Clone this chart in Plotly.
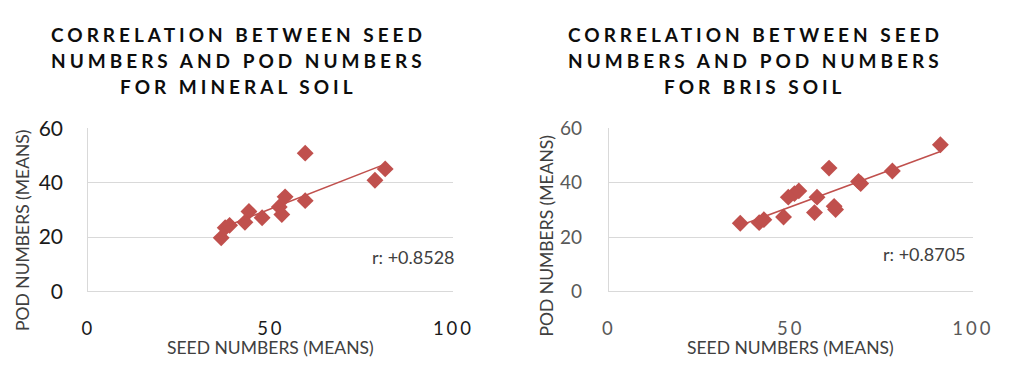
import numpy as np
import plotly.graph_objects as go

# ---------------- data ----------------
seed_mineral = [36.4, 37.5, 38.7, 42.9, 44.0, 47.6, 52.3, 53.0, 53.9, 59.4, 59.4, 78.5, 81.3]
pod_mineral = [19.7, 23.4, 24.3, 25.4, 29.4, 27.1, 31.1, 28.3, 34.8, 33.4, 50.9, 40.9, 45.1]

seed_bris = [36.1, 41.3, 42.6, 48.0, 49.3, 51.0, 52.2, 56.5, 57.2, 60.5, 61.9, 62.3, 68.6, 69.2, 77.9, 91.1]
pod_bris = [25.1, 25.3, 26.4, 27.4, 34.7, 36.0, 37.0, 29.0, 34.7, 45.4, 31.3, 30.1, 40.5, 39.7, 44.3, 54.0]

title_mineral = ["CORRELATION BETWEEN SEED", "NUMBERS AND POD NUMBERS", "FOR MINERAL SOIL"]
title_bris = ["CORRELATION BETWEEN SEED", "NUMBERS AND POD NUMBERS", "FOR BRIS SOIL"]
r_mineral = "r: +0.8528"
r_bris = "r: +0.8705"
x_title = "SEED NUMBERS (MEANS)"
y_title = "POD NUMBERS (MEANS)"
x_ticks = [0, 50, 100]
y_ticks = [0, 20, 40, 60]

# ---------------- figure ----------------
W, H = 1011, 372
RED = "#C0504D"
GRID = "#d9d9d9"


def px_x(p):
    return p / W


def px_y(p):
    return 1 - p / H


fig = go.Figure()


def add_series(xs, ys, xa, ya):
    fig.add_trace(go.Scatter(x=xs, y=ys, mode="markers", xaxis=xa, yaxis=ya,
                             marker=dict(symbol="diamond", size=13, color=RED,
                                         line=dict(width=0)),
                             showlegend=False, hoverinfo="skip"))
    xa_ = np.array(xs, dtype=float)
    ya_ = np.array(ys, dtype=float)
    k, b = np.polyfit(xa_, ya_, 1)
    xl = [xa_.min(), xa_.max()]
    yl = [k * v + b for v in xl]
    fig.add_trace(go.Scatter(x=xl, y=yl, mode="lines", xaxis=xa, yaxis=ya,
                             line=dict(color=RED, width=1.5),
                             showlegend=False, hoverinfo="skip"))


add_series(seed_mineral, pod_mineral, "x", "y")
add_series(seed_bris, pod_bris, "x2", "y2")

ydom = [px_y(297.3), px_y(122.7)]


def xaxis_cfg(dom, color):
    return dict(domain=dom, range=[0, 100], tickvals=x_ticks, showgrid=False,
                zeroline=False, showline=True, linecolor=GRID, linewidth=1,
                ticks="", ticklabelstandoff=20,
                tickfont=dict(family="Lato", size=18.5, color=color), fixedrange=True)


def yaxis_cfg(anchor, color, size, standoff):
    return dict(domain=ydom, range=[0, 60], tickvals=y_ticks, showgrid=True,
                gridcolor=GRID, gridwidth=1, zeroline=False, showline=True,
                linecolor=GRID, linewidth=1, ticks="", anchor=anchor,
                ticklabelstandoff=standoff,
                tickfont=dict(family="Lato", size=size, color=color), fixedrange=True)


fig.update_layout(
    width=W, height=H, autosize=False,
    margin=dict(l=0, r=0, t=0, b=0),
    paper_bgcolor="white", plot_bgcolor="white",
    xaxis=dict(xaxis_cfg([px_x(85), px_x(458)], "#1a1a1a"), anchor="y"),
    yaxis=yaxis_cfg("x", "#1a1a1a", 21, 20),
    xaxis2=dict(xaxis_cfg([px_x(616.7), px_x(988.3)], "#595959"), anchor="y2"),
    yaxis2=yaxis_cfg("x2", "#595959", 19, 22),
)

ann = []
# titles (first 6 annotations)
for cx, lines in ((238, title_mineral), (766, title_bris)):
    for line, cy in zip(lines, (22, 50, 78)):
        ann.append(dict(text=line, x=px_x(cx), y=px_y(cy), xref="paper", yref="paper",
                        xanchor="center", yanchor="middle", showarrow=False,
                        font=dict(family="Lato", size=19, color="#0d0d0d", weight="bold")))
# axis titles
for cx in (271.5, 802.5):
    ann.append(dict(text=x_title, x=px_x(cx), y=px_y(358), xref="paper", yref="paper",
                    xanchor="center", yanchor="middle", showarrow=False,
                    font=dict(family="Lato", size=17.5, color="#404040")))
for cx, cy in ((18, 232), (552, 238)):
    ann.append(dict(text=y_title, x=px_x(cx), y=px_y(cy), xref="paper", yref="paper",
                    xanchor="center", yanchor="middle", showarrow=False, textangle=-90,
                    font=dict(family="Lato", size=17.5, color="#404040")))
# r labels
for rx, ry, txt in ((462, 260, r_mineral), (983, 257, r_bris)):
    ann.append(dict(text=txt, x=px_x(rx), y=px_y(ry), xref="paper", yref="paper",
                    xanchor="right", yanchor="middle", showarrow=False,
                    font=dict(family="Lato", size=18, color="#404040")))
fig.update_layout(annotations=ann)

post = """
document.documentElement.style.margin = '0';
document.documentElement.style.padding = '0';
document.documentElement.style.overflow = 'hidden';
document.body.style.margin = '0';
document.body.style.padding = '0';
document.body.style.overflow = 'hidden';
var gd = document.getElementById('{plot_id}');
function applySpacing(){
  gd.querySelectorAll('g.annotation').forEach(function(g){
    var i = +g.getAttribute('data-index');
    if (i < 6) { g.querySelectorAll('text').forEach(function(t){ t.style.letterSpacing = '4px'; }); }
  });
  gd.querySelectorAll('g.xtick text, g.x2tick text').forEach(function(t){ t.style.letterSpacing = '3px'; });
}
applySpacing();
gd.on && gd.on('plotly_afterplot', applySpacing);
"""

fig.write_html("out.html", post_script=post, config={"displayModeBar": False})
